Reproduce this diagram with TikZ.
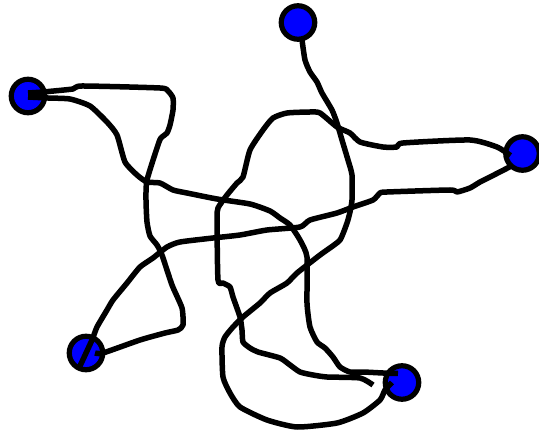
\documentclass[tikz,border=0pt]{standalone}
\usetikzlibrary{calc}
\begin{document}
\begin{tikzpicture}[x=1pt,y=-1pt,
  wire/.style={line width=5.5pt, line join=round, line cap=butt, black},
  dot/.style={circle, draw=black, line width=5.2pt, fill=blue, minimum size=33.5pt, inner sep=0pt}]
\useasboundingbox (0,0) rectangle (539,433);
\node[dot] (A) at (28,96) {};
\node[dot] (B) at (298,22.5) {};
\node[dot] (C) at (522.5,153.5) {};
\node[dot] (D) at (86,353) {};
\node[dot] (E) at (402,382.5) {};
\coordinate (Cend) at (373,385);
% A upper -> D
\draw[wire] plot[smooth, tension=0.35] coordinates {($(A)+(0,-3)$) (43,92) (73,89) (82,86) (160,88) (168,91) (173,98) (173,110) (170,125) (167,133) (162,137) (159,142) (147,180) (146,200) (147,222) (150,236) (157,245) (162,255) (172,285) (182,308) (183,325) (178,330) (165,333) (140,340) (103,353) ($(D)+(9,0)$)};
% A lower -> E
\draw[wire] plot[smooth, tension=0.35] coordinates {($(A)+(0,1)$) (48,98) (70,99) (90,106) (107,122) (117,135) (125,162) (137,175) (147,182) (160,183) (173,190) (187,193) (217,199) (250,204) (270,211) (280,218) (290,225) (300,240) (307,257) (307,303) (310,327) (317,342) (325,348) (333,357) (340,367) (350,372) (363,372) (383,373) ($(E)+(-4,-9)$)};
% B -> E
\draw[wire] plot[smooth, tension=0.35] coordinates {($(B)+(4,18)$) (302,40) (305,60) (310,72) (317,82) (322,93) (332,110) (337,123) (342,140) (348,160) (352,175) (352,200) (350,212) (347,223) (340,240) (327,250) (320,255) (297,273) (287,283) (270,293) (260,303) (243,317) (233,327) (225,337) (222,347) (223,377) (230,393) (240,407) (267,420) (297,427) (337,423) (363,413) (380,400) (385,390) ($(E)+(-10,0)$)};
% C upper -> free end
\draw[wire] plot[smooth, tension=0.35] coordinates {($(C)+(-12,2)$) (497,147) (470,140) (403,143) (397,147) (383,147) (360,142) (350,133) (337,127) (320,113) (310,112) (287,113) (273,118) (263,130) (250,150) (243,177) (237,183) (227,195) (218,208) (217,220) (218,280) (223,283) (230,287) (233,297) (240,317) (242,330) (243,342) (250,348) (258,352) (280,358) (290,365) (300,372) (313,375) (327,377) (360,378) (Cend)};
% C lower -> D
\draw[wire] plot[smooth, tension=0.35] coordinates {($(C)+(-12,13)$) (490,177) (480,182) (470,188) (457,192) (450,190) (387,192) (380,193) (373,200) (353,207) (337,213) (310,220) (300,227) (267,230) (240,235) (213,238) (180,242) (167,247) (153,258) (140,267) (127,283) (113,300) (107,310) (97,327) (92,340) ($(D)+(-6,13)$)};
\end{tikzpicture}
\end{document}
